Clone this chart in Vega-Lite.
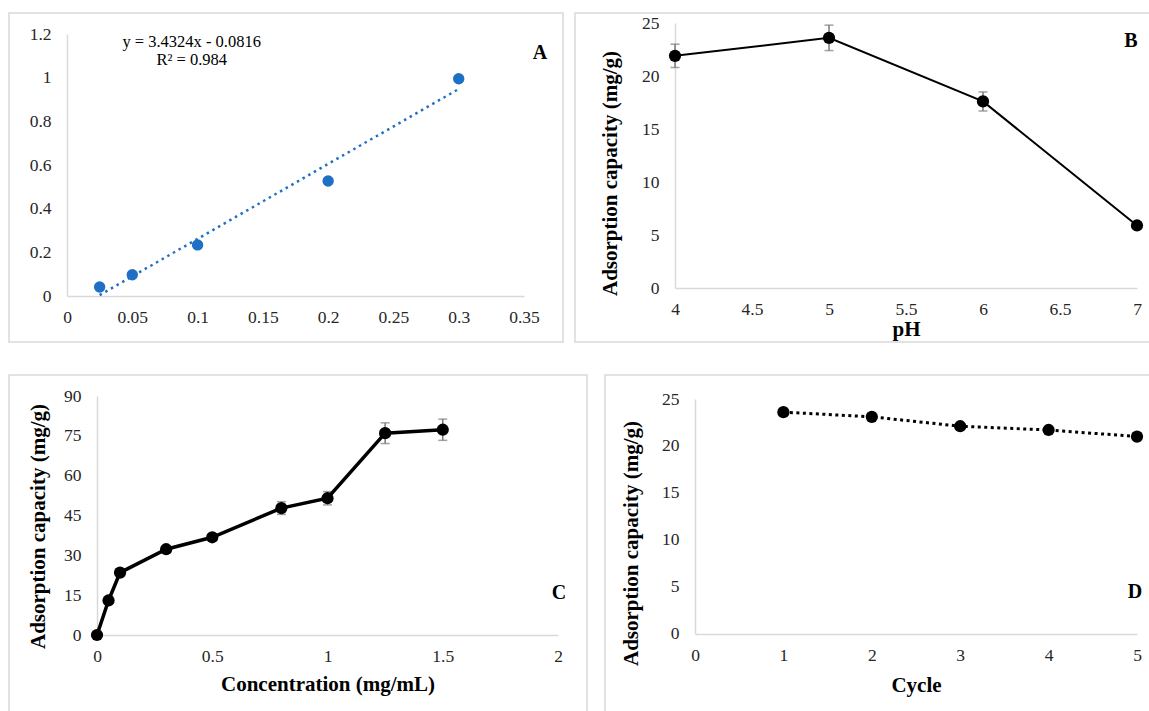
{
  "$schema": "https://vega.github.io/schema/vega-lite/v6.json",
  "padding": {"left": 8, "top": 12, "right": 0, "bottom": 0},
  "background": "white",
  "spacing": 31,
  "config": {
    "view": {"stroke": "#d9d9d9", "strokeWidth": 1.5},
    "axis": {
      "labelFont": "Liberation Serif", "titleFont": "Liberation Serif",
      "labelFontSize": 17.5, "titleFontSize": 21, "titleFontWeight": "bold",
      "labelColor": "#262626", "titleColor": "#000000",
      "domainColor": "#d9d9d9", "domainWidth": 1.5,
      "ticks": false, "grid": false, "labelFlush": false, "labelOverlap": false
    },
    "axisX": {"labelFont": "Liberation Serif", "labelFontSize": 17.5},
    "axisY": {"labelFont": "Liberation Serif", "labelFontSize": 17.5},
    "text": {"font": "Liberation Serif"}
  },
  "vconcat": [
    {
      "spacing": 10,
      "hconcat": [
        {
          "width": 554, "height": 329,
          "encoding": {
            "x": {"field": "x", "type": "quantitative",
              "scale": {"domain": [0, 0.35], "range": [58, 515], "nice": false, "zero": false},
              "axis": {"title": null, "offset": -46, "labelPadding": 12, "labelFont": "Liberation Serif", "format": "~g", "values": [0, 0.05, 0.1, 0.15, 0.2, 0.25, 0.3, 0.35]}},
            "y": {"field": "y", "type": "quantitative",
              "scale": {"domain": [0, 1.2], "range": [283, 21], "nice": false, "zero": false},
              "axis": {"title": null, "offset": -58, "labelPadding": 16, "labelFont": "Liberation Serif", "format": "~g", "values": [0, 0.2, 0.4, 0.6, 0.8, 1, 1.2]}}
          },
          "layer": [
            {
              "data": {"values": [{"x": 0.025, "y": 0.0042}, {"x": 0.3, "y": 0.9481}]},
              "mark": {"type": "line", "color": "#1f6fc4", "strokeWidth": 2.5, "strokeDash": [2.5, 4]}
            },
            {
              "data": {"values": [
                {"x": 0.025, "y": 0.041}, {"x": 0.05, "y": 0.097}, {"x": 0.1, "y": 0.234},
                {"x": 0.2, "y": 0.527}, {"x": 0.3, "y": 0.995}
              ]},
              "mark": {"type": "circle", "color": "#1f6fc4", "size": 130, "opacity": 1}
            },
            {
              "data": {"values": [
                {"x": 0.0955, "y": 1.163, "t": "y = 3.4324x - 0.0816"},
                {"x": 0.0955, "y": 1.081, "t": "R² = 0.984"}
              ]},
              "mark": {"type": "text", "font": "Liberation Serif", "fontSize": 16.5, "color": "#000000", "align": "center", "baseline": "middle"},
              "encoding": {"text": {"field": "t"}}
            },
            {
              "data": {"values": [{"x": 0.3623, "y": 1.113, "t": "A"}]},
              "mark": {"type": "text", "font": "Liberation Serif", "fontSize": 20, "fontWeight": "bold", "color": "#000000", "align": "center", "baseline": "middle"},
              "encoding": {"text": {"field": "t"}}
            }
          ]
        },
        {
          "width": 577, "height": 329,
          "encoding": {
            "x": {"field": "x", "type": "quantitative",
              "scale": {"domain": [4, 7], "range": [100, 562], "nice": false, "zero": false},
              "axis": {"title": "pH", "offset": -54, "labelPadding": 12, "labelFont": "Liberation Serif", "format": ".2~f", "titleY": 41, "titleBaseline": "middle", "values": [4, 4.5, 5, 5.5, 6, 6.5, 7]}},
            "y": {"field": "y", "type": "quantitative",
              "scale": {"domain": [0, 25], "range": [275, 10], "nice": false, "zero": false},
              "axis": {"title": "Adsorption capacity (mg/g)", "offset": -100, "labelPadding": 16, "labelFont": "Liberation Serif", "format": "d", "titleX": -65, "titleY": 160, "titleBaseline": "middle", "values": [0, 5, 10, 15, 20, 25]}}
          },
          "layer": [
            {
              "data": {"name": "b"},
              "mark": {"type": "errorbar", "ticks": true, "size": 9, "thickness": 1.5, "color": "#7a7a7a"},
              "encoding": {"yError": {"field": "e"}}
            },
            {
              "data": {"name": "b"},
              "mark": {"type": "line", "color": "#000000", "strokeWidth": 2}
            },
            {
              "data": {"name": "b"},
              "mark": {"type": "circle", "color": "#000000", "size": 150, "opacity": 1}
            },
            {
              "data": {"values": [{"x": 6.961, "y": 23.3, "t": "B"}]},
              "mark": {"type": "text", "font": "Liberation Serif", "fontSize": 20, "fontWeight": "bold", "color": "#000000", "align": "center", "baseline": "middle"},
              "encoding": {"text": {"field": "t"}}
            }
          ]
        }
      ]
    },
    {
      "spacing": 16,
      "hconcat": [
        {
          "width": 578, "height": 339,
          "encoding": {
            "x": {"field": "x", "type": "quantitative",
              "scale": {"domain": [0, 2], "range": [88, 549], "nice": false, "zero": false},
              "axis": {"title": "Concentration (mg/mL)", "offset": -79, "labelPadding": 12, "labelFont": "Liberation Serif", "format": ".2~f", "titleY": 49, "titleBaseline": "middle", "values": [0, 0.5, 1, 1.5, 2]}},
            "y": {"field": "y", "type": "quantitative",
              "scale": {"domain": [0, 90], "range": [260, 21], "nice": false, "zero": false},
              "axis": {"title": "Adsorption capacity (mg/g)", "offset": -88, "labelPadding": 16, "labelFont": "Liberation Serif", "format": "d", "titleX": -59, "titleY": 151, "titleBaseline": "middle", "values": [0, 15, 30, 45, 60, 75, 90]}}
          },
          "layer": [
            {
              "data": {"name": "c"},
              "mark": {"type": "errorbar", "ticks": true, "size": 9, "thickness": 1.5, "color": "#7a7a7a"},
              "encoding": {"yError": {"field": "e"}}
            },
            {
              "data": {"name": "c"},
              "mark": {"type": "line", "color": "#000000", "strokeWidth": 3.5}
            },
            {
              "data": {"name": "c"},
              "mark": {"type": "circle", "color": "#000000", "size": 150, "opacity": 1}
            },
            {
              "data": {"values": [{"x": 2.004, "y": 15.8, "t": "C"}]},
              "mark": {"type": "text", "font": "Liberation Serif", "fontSize": 20, "fontWeight": "bold", "color": "#000000", "align": "center", "baseline": "middle"},
              "encoding": {"text": {"field": "t"}}
            }
          ]
        },
        {
          "width": 547, "height": 339,
          "encoding": {
            "x": {"field": "x", "type": "quantitative",
              "scale": {"domain": [0, 5], "range": [90, 532], "nice": false, "zero": false},
              "axis": {"title": "Cycle", "offset": -80, "labelPadding": 12, "labelFont": "Liberation Serif", "format": "d", "titleY": 51, "titleBaseline": "middle", "values": [0, 1, 2, 3, 4, 5]}},
            "y": {"field": "y", "type": "quantitative",
              "scale": {"domain": [0, 25], "range": [258.7, 24], "nice": false, "zero": false},
              "axis": {"title": "Adsorption capacity (mg/g)", "offset": -90, "labelPadding": 16, "labelFont": "Liberation Serif", "format": "d", "titleX": -64, "titleY": 168, "titleBaseline": "middle", "values": [0, 5, 10, 15, 20, 25]}}
          },
          "layer": [
            {
              "data": {"name": "d"},
              "mark": {"type": "line", "color": "#000000", "strokeWidth": 3, "strokeDash": [3, 3.5]}
            },
            {
              "data": {"name": "d"},
              "mark": {"type": "circle", "color": "#000000", "size": 150, "opacity": 1}
            },
            {
              "data": {"values": [{"x": 4.977, "y": 4.44, "t": "D"}]},
              "mark": {"type": "text", "font": "Liberation Serif", "fontSize": 20, "fontWeight": "bold", "color": "#000000", "align": "center", "baseline": "middle"},
              "encoding": {"text": {"field": "t"}}
            }
          ]
        }
      ]
    }
  ],
  "datasets": {
    "b": [
      {"x": 4, "y": 21.9, "e": 1.1},
      {"x": 5, "y": 23.6, "e": 1.2},
      {"x": 6, "y": 17.6, "e": 0.9},
      {"x": 7, "y": 5.9, "e": 0}
    ],
    "c": [
      {"x": 0, "y": 0, "e": 0},
      {"x": 0.05, "y": 13.0, "e": 0.5},
      {"x": 0.1, "y": 23.5, "e": 0.8},
      {"x": 0.3, "y": 32.3, "e": 1.0},
      {"x": 0.5, "y": 36.8, "e": 1.2},
      {"x": 0.8, "y": 47.8, "e": 2.4},
      {"x": 1.0, "y": 51.5, "e": 2.5},
      {"x": 1.25, "y": 76.0, "e": 3.9},
      {"x": 1.5, "y": 77.3, "e": 4.0}
    ],
    "d": [
      {"x": 1, "y": 23.6},
      {"x": 2, "y": 23.1},
      {"x": 3, "y": 22.1},
      {"x": 4, "y": 21.7},
      {"x": 5, "y": 21.0}
    ]
  }
}
